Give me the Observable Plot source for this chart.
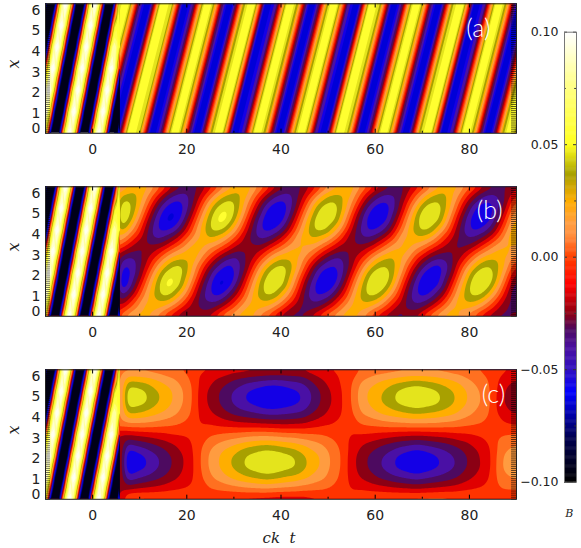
<!DOCTYPE html>
<html><head><meta charset="utf-8">
<script src="https://cdn.jsdelivr.net/npm/d3@7"></script>
<script src="https://cdn.jsdelivr.net/npm/@observablehq/plot@0.6"></script>
<style>html,body{margin:0;padding:0;background:#fff}#c{position:relative;width:581px;height:548px;overflow:hidden}#c svg{position:absolute;left:0;background:transparent}</style>
</head><body><div id="c"></div>
<script>
// B field, in thousandths. Rows run from x=0 to x=2pi.
const earlyRows = [
[46,-2,-61,-107,-132,-131,-104,-56,3,50,86,106,105,82,43,-5,-63,-109,-133,-130,-102,-53,5,51,88,106,104,81,42,-8,-66,-110,-133,-129,-100,-50],
[105,83,46,-2,-61,-107,-132,-131,-104,-56,3,50,86,106,105,82,43,-5,-63,-109,-133,-130,-102,-53,5,51,88,106,104,81,42,-8,-66,-110,-133,-129],
[85,106,105,83,46,-2,-61,-107,-132,-131,-104,-56,3,50,86,106,105,82,43,-5,-63,-109,-133,-130,-102,-53,5,51,88,106,104,81,42,-8,-66,-110],
[1,47,85,106,105,83,46,-2,-61,-107,-132,-131,-104,-56,3,50,86,106,105,82,43,-5,-63,-109,-133,-130,-102,-53,5,51,88,106,104,81,42,-8],
[-105,-58,1,47,85,106,105,83,46,-2,-61,-107,-132,-131,-104,-56,3,50,86,106,105,82,43,-5,-63,-109,-133,-130,-102,-53,5,51,80,90,75,56],
[-132,-132,-105,-58,1,47,85,106,105,83,46,-2,-61,-107,-132,-131,-104,-56,3,50,86,106,105,82,43,-5,-63,-109,-133,-130,-102,-53,5,45,56,60],
[-58,-105,-132,-132,-105,-58,1,47,85,106,105,83,46,-2,-61,-107,-132,-131,-104,-56,3,50,86,106,105,82,43,-5,-63,-109,-133,-130,-102,-53,3,45]
];
const lateRowsA = [
[-61,-8,56,56,41,-8,-61,-61,-36,13,56,56,21,-29,-61,-61,-17,32,56,56,0,-61,-61,-43,4,56,56,29,-21,-61,-61,-25,24,56,56,9,-40,-61,-61,-5,56,56,36,-12,-61,-61,-33,16,56,56,18,-32,-61,-61,-13,35,56,56,-3,-61,-61,-41,8,56,56,26,-24,-61,-61,-22,28,56,56,5,-42],
[-61,-61,-8,56,56,41,-8,-61,-61,-36,13,56,56,21,-29,-61,-61,-17,32,56,56,0,-61,-61,-43,4,56,56,29,-21,-61,-61,-25,24,56,56,9,-40,-61,-61,-5,56,56,36,-12,-61,-61,-33,16,56,56,18,-32,-61,-61,-13,35,56,56,-3,-61,-61,-41,8,56,56,26,-24,-61,-61,-22,28,56,56,5],
[-36,-61,-61,-8,56,56,41,-8,-61,-61,-36,13,56,56,21,-29,-61,-61,-17,32,56,56,0,-61,-61,-43,4,56,56,29,-21,-61,-61,-25,24,56,56,9,-40,-61,-61,-5,56,56,36,-12,-61,-61,-33,16,56,56,18,-32,-61,-61,-13,35,56,56,-3,-61,-61,-41,8,56,56,26,-24,-61,-61,-22,28,56,56],
[13,-36,-61,-61,-8,56,56,41,-8,-61,-61,-36,13,56,56,21,-29,-61,-61,-17,32,56,56,0,-61,-61,-43,4,56,56,29,-21,-61,-61,-25,24,56,56,9,-40,-61,-61,-5,56,56,36,-12,-61,-61,-33,16,56,56,18,-32,-61,-61,-13,35,56,56,-3,-61,-61,-41,8,56,56,26,-24,-61,-61,-22,28,56],
[56,13,-36,-61,-61,-8,56,56,41,-8,-61,-61,-36,13,56,56,21,-29,-61,-61,-17,32,56,56,0,-61,-61,-43,4,56,56,29,-21,-61,-61,-25,24,56,56,9,-40,-61,-61,-5,56,56,36,-12,-61,-61,-33,16,56,56,18,-32,-61,-61,-13,35,56,56,-3,-61,-61,-41,8,56,56,26,-24,-61,-61,-22,28],
[56,56,13,-36,-61,-61,-8,56,56,41,-8,-61,-61,-36,13,56,56,21,-29,-61,-61,-17,32,56,56,0,-61,-61,-43,4,56,56,29,-21,-61,-61,-25,24,56,56,9,-40,-61,-61,-5,56,56,36,-12,-61,-61,-33,16,56,56,18,-32,-61,-61,-13,35,56,56,-3,-61,-61,-41,8,56,56,26,-24,-61,-61,-22],
[21,56,56,13,-36,-61,-61,-8,56,56,41,-8,-61,-61,-36,13,56,56,21,-29,-61,-61,-17,32,56,56,0,-61,-61,-43,4,56,56,29,-21,-61,-61,-25,24,56,56,9,-40,-61,-61,-5,56,56,36,-12,-61,-61,-33,16,56,56,18,-32,-61,-61,-13,35,56,56,-3,-61,-61,-41,8,56,56,26,-24,-61,-61]
];
// Columns in t, each with 13 values from x=0 to x=2pi.
const lateColsB = [
[5,-24,-50,-68,-59,-42,-15,14,41,56,50,32,5],[16,-9,-33,-54,-57,-50,-26,-1,23,44,48,38,16],[25,7,-12,-28,-41,-42,-32,-17,2,18,29,32,25],[25,22,12,0,-14,-25,-31,-29,-22,-10,4,15,25],[12,26,32,26,13,-5,-22,-38,-44,-38,-23,-5,12],[0,24,44,48,38,16,-10,-36,-54,-57,-48,-26,0],
[-15,14,41,57,50,32,5,-24,-50,-66,-59,-42,-15],[-26,-1,23,44,48,38,16,-9,-36,-54,-57,-48,-26],[-33,-17,2,18,29,32,25,7,-12,-28,-41,-42,-33],[-31,-29,-22,-10,4,15,25,22,12,0,-14,-25,-31],[-22,-38,-44,-38,-23,-5,12,26,32,26,13,-5,-22],[-10,-36,-54,-57,-48,-26,0,24,44,48,38,16,-10],
[5,-24,-50,-66,-59,-42,-15,14,41,57,50,32,5],[16,-9,-33,-54,-57,-50,-26,-1,23,44,48,38,16],[25,7,-12,-28,-41,-42,-32,-17,2,18,29,32,25],[25,22,12,0,-14,-25,-31,-29,-22,-10,4,15,25],[12,26,32,26,13,-5,-22,-38,-44,-38,-23,-5,12],[0,24,44,48,38,16,-10,-36,-54,-57,-48,-26,0],
[-15,14,41,52,50,32,5,-24,-50,-61,-59,-42,-15],[-26,-1,23,44,48,38,16,-9,-36,-54,-57,-48,-26],[-33,-17,2,18,29,32,25,7,-12,-28,-41,-42,-33],[-31,-29,-22,-10,4,15,25,22,12,0,-14,-25,-31],[-22,-38,-44,-38,-23,-5,12,26,32,26,13,-5,-22],[-10,-36,-54,-57,-48,-26,0,24,44,48,38,16,-10],
[5,-24,-50,-61,-59,-42,-15,14,41,52,50,32,5],[16,-9,-33,-54,-57,-50,-26,-1,23,44,48,38,16],[25,7,-12,-28,-41,-42,-32,-17,2,18,29,32,25],[25,22,12,0,-14,-25,-31,-29,-22,-10,4,15,25],[12,26,32,26,13,-5,-22,-38,-44,-38,-23,-5,12],[0,24,44,48,38,16,-10,-36,-54,-57,-48,-26,0],
[-15,14,41,52,50,32,5,-24,-50,-61,-59,-42,-15],[-26,-1,23,44,48,38,16,-9,-36,-54,-57,-48,-26],[-33,-17,2,18,29,32,25,7,-12,-28,-41,-42,-33],[-31,-29,-22,-10,4,15,25,22,12,0,-14,-25,-31],[-22,-38,-44,-38,-23,-5,12,26,32,26,13,-5,-22],[-10,-36,-54,-57,-48,-26,0,24,44,48,38,16,-10],
[5,-24,-50,-61,-59,-42,-15,14,41,52,50,32,5],[16,-9,-33,-54,-57,-50,-26,-1,23,44,48,38,16],[25,7,-12,-28,-41,-42,-32,-17,2,18,29,32,25],[25,22,12,0,-14,-25,-31,-29,-22,-10,4,15,25],[12,26,32,26,13,-5,-22,-38,-44,-38,-23,-5,12],[0,24,44,48,38,16,-10,-36,-54,-57,-48,-26,0],
[-15,14,41,52,50,32,5,-24,-50,-61,-59,-42,-15],[-26,-1,23,44,48,38,16,-9,-36,-54,-57,-48,-26],[-33,-17,2,18,29,32,25,7,-12,-28,-41,-42,-33],[-31,-29,-22,-10,4,15,25,22,12,0,-14,-25,-31],[-22,-38,-44,-38,-23,-5,12,26,32,26,13,-5,-22],[-10,-36,-54,-57,-48,-26,0,24,44,48,38,16,-10]
];
const lateColsC = [
[4,-25,-50,-64,-63,-47,-21,8,33,50,49,30,4],[6,-21,-44,-58,-58,-41,-18,9,32,47,47,29,6],[6,-19,-39,-53,-52,-37,-16,9,29,44,43,27,6],[4,-17,-35,-45,-44,-33,-14,7,25,35,34,23,4],[3,-15,-30,-38,-38,-28,-13,5,20,28,28,18,3],[2,-12,-24,-30,-30,-22,-10,3,15,21,21,13,2],
[-1,-10,-18,-22,-22,-17,-9,0,8,12,12,7,-1],[-4,-8,-12,-14,-14,-12,-8,-3,1,3,3,0,-4],[-9,-6,-3,-1,-1,-3,-6,-10,-12,-14,-14,-12,-9],[-9,0,8,12,12,7,-1,-10,-18,-22,-22,-17,-9],[-11,3,14,20,20,13,1,-13,-24,-30,-30,-23,-11],[-13,5,20,28,28,18,3,-15,-30,-38,-38,-28,-13],
[-14,7,25,35,34,23,4,-17,-35,-45,-44,-33,-14],[-15,9,29,43,42,27,6,-18,-38,-51,-51,-37,-15],[-16,10,32,47,46,30,7,-19,-41,-55,-55,-39,-16],[-17,11,35,51,50,32,7,-20,-44,-60,-60,-41,-17],[-18,9,33,49,49,30,6,-21,-45,-60,-60,-42,-18],[-18,8,29,45,45,27,4,-22,-43,-57,-57,-41,-18],
[-18,7,27,42,41,25,4,-21,-41,-54,-53,-39,-18],[-17,4,23,33,32,21,1,-20,-39,-49,-48,-37,-17],[-14,3,17,25,25,15,1,-16,-30,-38,-38,-28,-14],[-10,2,13,18,18,11,0,-12,-23,-28,-28,-21,-10],[-9,-1,5,8,8,4,-2,-10,-16,-20,-19,-15,-9],[-7,-4,-2,0,0,-2,-4,-7,-10,-11,-11,-9,-7],
[-6,-10,-13,-15,-15,-13,-10,-6,-3,-1,-1,-3,-6],[0,-11,-20,-24,-24,-19,-10,1,10,14,14,9,0],[1,-13,-25,-32,-32,-24,-11,3,15,22,22,14,1],[3,-15,-31,-39,-38,-29,-13,5,21,29,28,19,3],[4,-17,-35,-45,-44,-33,-14,7,25,35,34,23,4],[5,-19,-39,-53,-52,-37,-16,8,28,43,42,26,5],
[6,-20,-42,-57,-57,-40,-17,9,31,47,47,29,6],[6,-22,-45,-61,-61,-43,-18,10,33,50,50,31,6],[6,-20,-42,-57,-57,-40,-17,9,31,47,47,29,6],[6,-19,-39,-53,-52,-37,-16,9,29,44,43,27,6],[5,-17,-36,-47,-46,-34,-15,7,26,37,36,24,5],[3,-16,-32,-41,-40,-30,-13,6,22,31,30,20,3],
[2,-13,-26,-33,-33,-25,-12,3,16,23,23,15,2],[0,-11,-20,-25,-25,-19,-10,1,10,15,15,9,0],[-2,-9,-15,-19,-18,-15,-8,-1,5,9,8,5,-2],[-5,-7,-8,-9,-9,-8,-6,-5,-3,-2,-2,-3,-5],[-7,0,7,11,10,6,-1,-8,-15,-19,-18,-14,-7],[-10,1,10,14,14,9,0,-11,-20,-24,-24,-19,-10],[-11,2,13,19,19,12,1,-12,-23,-29,-29,-22,-11]
];
const levels = [-0.2,-0.09,-0.08,-0.07,-0.06,-0.05,-0.04,-0.03,-0.02,-0.01,0,0.01,0.02,0.03,0.04,0.05,0.06,0.07,0.08,0.09,0.1];
const bandColors = ["#000000","#000018","#000050","#00008c","#0000d8","#1400e6","#4a10a5","#4d0a60","#8b0014","#e00000","#ff3300","#ff7020","#ff9c40","#ffae00","#a8a000","#e4e41c","#ffff30","#ffff48","#ffff70","#ffffa0","#ffffd0","#fffff0"];
const barStops = [-0.1,-0.08,-0.06,-0.05,-0.04,-0.032,-0.025,-0.012,0,0.01,0.015,0.025,0.037,0.05,0.075,0.1];
const barColors = ["#000000","#000050","#0000ff","#3010c0","#4a10a0","#4d0a60","#8b0014","#ff0000","#ff4000","#ff9040","#ff9c40","#ffae00","#a8a000","#ffff1e","#ffff80","#ffffff"];
const barTicks = [-0.1,-0.05,0,0.05,0.1];
const barMinor = [-0.075,-0.025,0.025,0.075];
const tTicks = [0,20,40,60,80];
const tMinor = [-10,10,30,50,70,90];
const xTicks = [1,2,3,4,5,6];
const PI = Math.PI;
const colPoints = (cols,t0,dt) => cols.flatMap((col,i) => col.map((v,j) => ({t:t0+dt*i, x:j*PI/6, v:v/1000})));
const panels = [
 {top:0, h:170, bottom:37.2, tag:"(a)", tagT:81.9, tagX:5.08, rows:lateRowsA, x1:4.6167, x2:92.1167},
 {top:183, h:170, bottom:37.2, tag:"(b)", tagT:84.3, tagX:5.13, points:colPoints(lateColsB,5.6,22/12)},
 {top:366, h:182, bottom:49.2, tag:"(c)", tagT:85.1, tagX:5.08, points:colPoints(lateColsC,6.8,2)}
];
const root = document.getElementById("c");
const color = {type:"threshold", domain:levels, range:bandColors};
const toValues = rows => rows.flat().map(v => v/1000);
const comb = d3.range(0,6.3,0.1);
const font = "'DejaVu Sans'";
const tickFill = "#222";
panels.forEach((p,idx) => {
  const lateMark = p.rows
    ? Plot.contour(toValues(p.rows),{width:p.rows[0].length,height:7,x1:p.x1,x2:p.x2,y1:-PI/6,y2:2*PI+PI/6,fill:Plot.identity,thresholds:levels,clip:true})
    : Plot.contour(p.points,{x:"t",y:"x",fill:"v",interpolate:"barycentric",pixelSize:1,blur:3,thresholds:levels,clip:true});
  const marks = [
    lateMark,
    Plot.contour(toValues(earlyRows),{width:36,height:7,x1:-10.2,x2:5.8,y1:-PI/6,y2:2*PI+PI/6,fill:Plot.identity,thresholds:levels,clip:true}),
    Plot.ruleY(comb,{x1:-10,x2:-8.95,stroke:"#000",strokeOpacity:0.7,strokeWidth:0.8}),
    Plot.ruleY(comb,{x1:88.95,x2:90,stroke:"#000",strokeOpacity:0.8,strokeWidth:0.8}),
    Plot.ruleX(tTicks,{y1:0,y2:0.2,stroke:"#000"}),
    Plot.ruleX(tTicks,{y1:6.08,y2:2*PI,stroke:"#000"}),
    Plot.ruleX(tMinor,{y1:0,y2:0.1,stroke:"#000"}),
    Plot.ruleX(tMinor,{y1:6.18,y2:2*PI,stroke:"#000"}),
    Plot.frame({stroke:"#222"}),
    Plot.axisX(tTicks,{anchor:"bottom",tickSize:0,tickPadding:11,label:null,fill:tickFill}),
    Plot.axisY(xTicks,{anchor:"left",tickSize:0,tickPadding:5,label:null,dy:0.7,fill:tickFill}),
    Plot.axisY([0],{anchor:"left",tickSize:0,tickPadding:5,label:null,dy:-4.4,fill:tickFill}),
    Plot.text(["x"],{frameAnchor:"left",dx:-32,rotate:-90,fontFamily:"'DejaVu Serif'",fontStyle:"italic",fontSize:16,fill:tickFill}),
    Plot.text([p.tag],{x:p.tagT,y:p.tagX,fill:"#fff",fontFamily:"Lato",fontWeight:300,fontSize:25,letterSpacing:"2px"})
  ];
  if (idx===2) marks.push(Plot.text(["ck  t"],{x:39.6,y:0,dy:38.5,fontFamily:"'DejaVu Serif'",fontStyle:"italic",fontSize:15,fill:tickFill,style:"white-space:pre",letterSpacing:"1px"}));
  const svg = Plot.plot({width:581,height:p.h,marginLeft:45,marginRight:65,marginTop:3.3,marginBottom:p.bottom,
    x:{domain:[-10,90],axis:null},y:{domain:[0,2*PI],axis:null},color,
    style:{fontFamily:font,fontSize:"14px",background:"transparent",overflow:"visible"},marks});
  svg.style.top = p.top+"px";
  root.appendChild(svg);
});
const barVals = d3.range(-0.1,0.1001,0.0004);
const bar = Plot.plot({width:581,height:548,marginLeft:564,marginRight:5,marginTop:31.7,marginBottom:66.3,
  x:{domain:[0,1],axis:null},y:{domain:[-0.1,0.1],axis:null},
  color:{type:"linear",domain:barStops,range:barColors,interpolate:"rgb"},
  style:{fontFamily:font,fontSize:"12.5px",background:"transparent",overflow:"visible",pointerEvents:"none"},
  marks:[
    Plot.ruleY(barVals,{y:d=>d,stroke:d=>d,strokeWidth:1.4}),
    Plot.ruleY(barTicks,{x1:0,x2:0.25,stroke:"#333"}),
    Plot.ruleY(barTicks,{x1:0.75,x2:1,stroke:"#333"}),
    Plot.ruleY(barMinor,{x1:0,x2:0.15,stroke:"#333"}),
    Plot.ruleY(barMinor,{x1:0.85,x2:1,stroke:"#333"}),
    Plot.frame({stroke:"#777"}),
    Plot.axisY(barTicks,{anchor:"left",tickSize:0,tickPadding:6,label:null,tickFormat:d3.format(".2f"),fill:tickFill}),
    Plot.text(["B"],{x:0.4,y:-0.1,dy:31,fontFamily:"'DejaVu Serif'",fontStyle:"italic",fontSize:11,fill:tickFill})
  ]});
bar.style.top="0px";
root.appendChild(bar);
</script></body></html>
